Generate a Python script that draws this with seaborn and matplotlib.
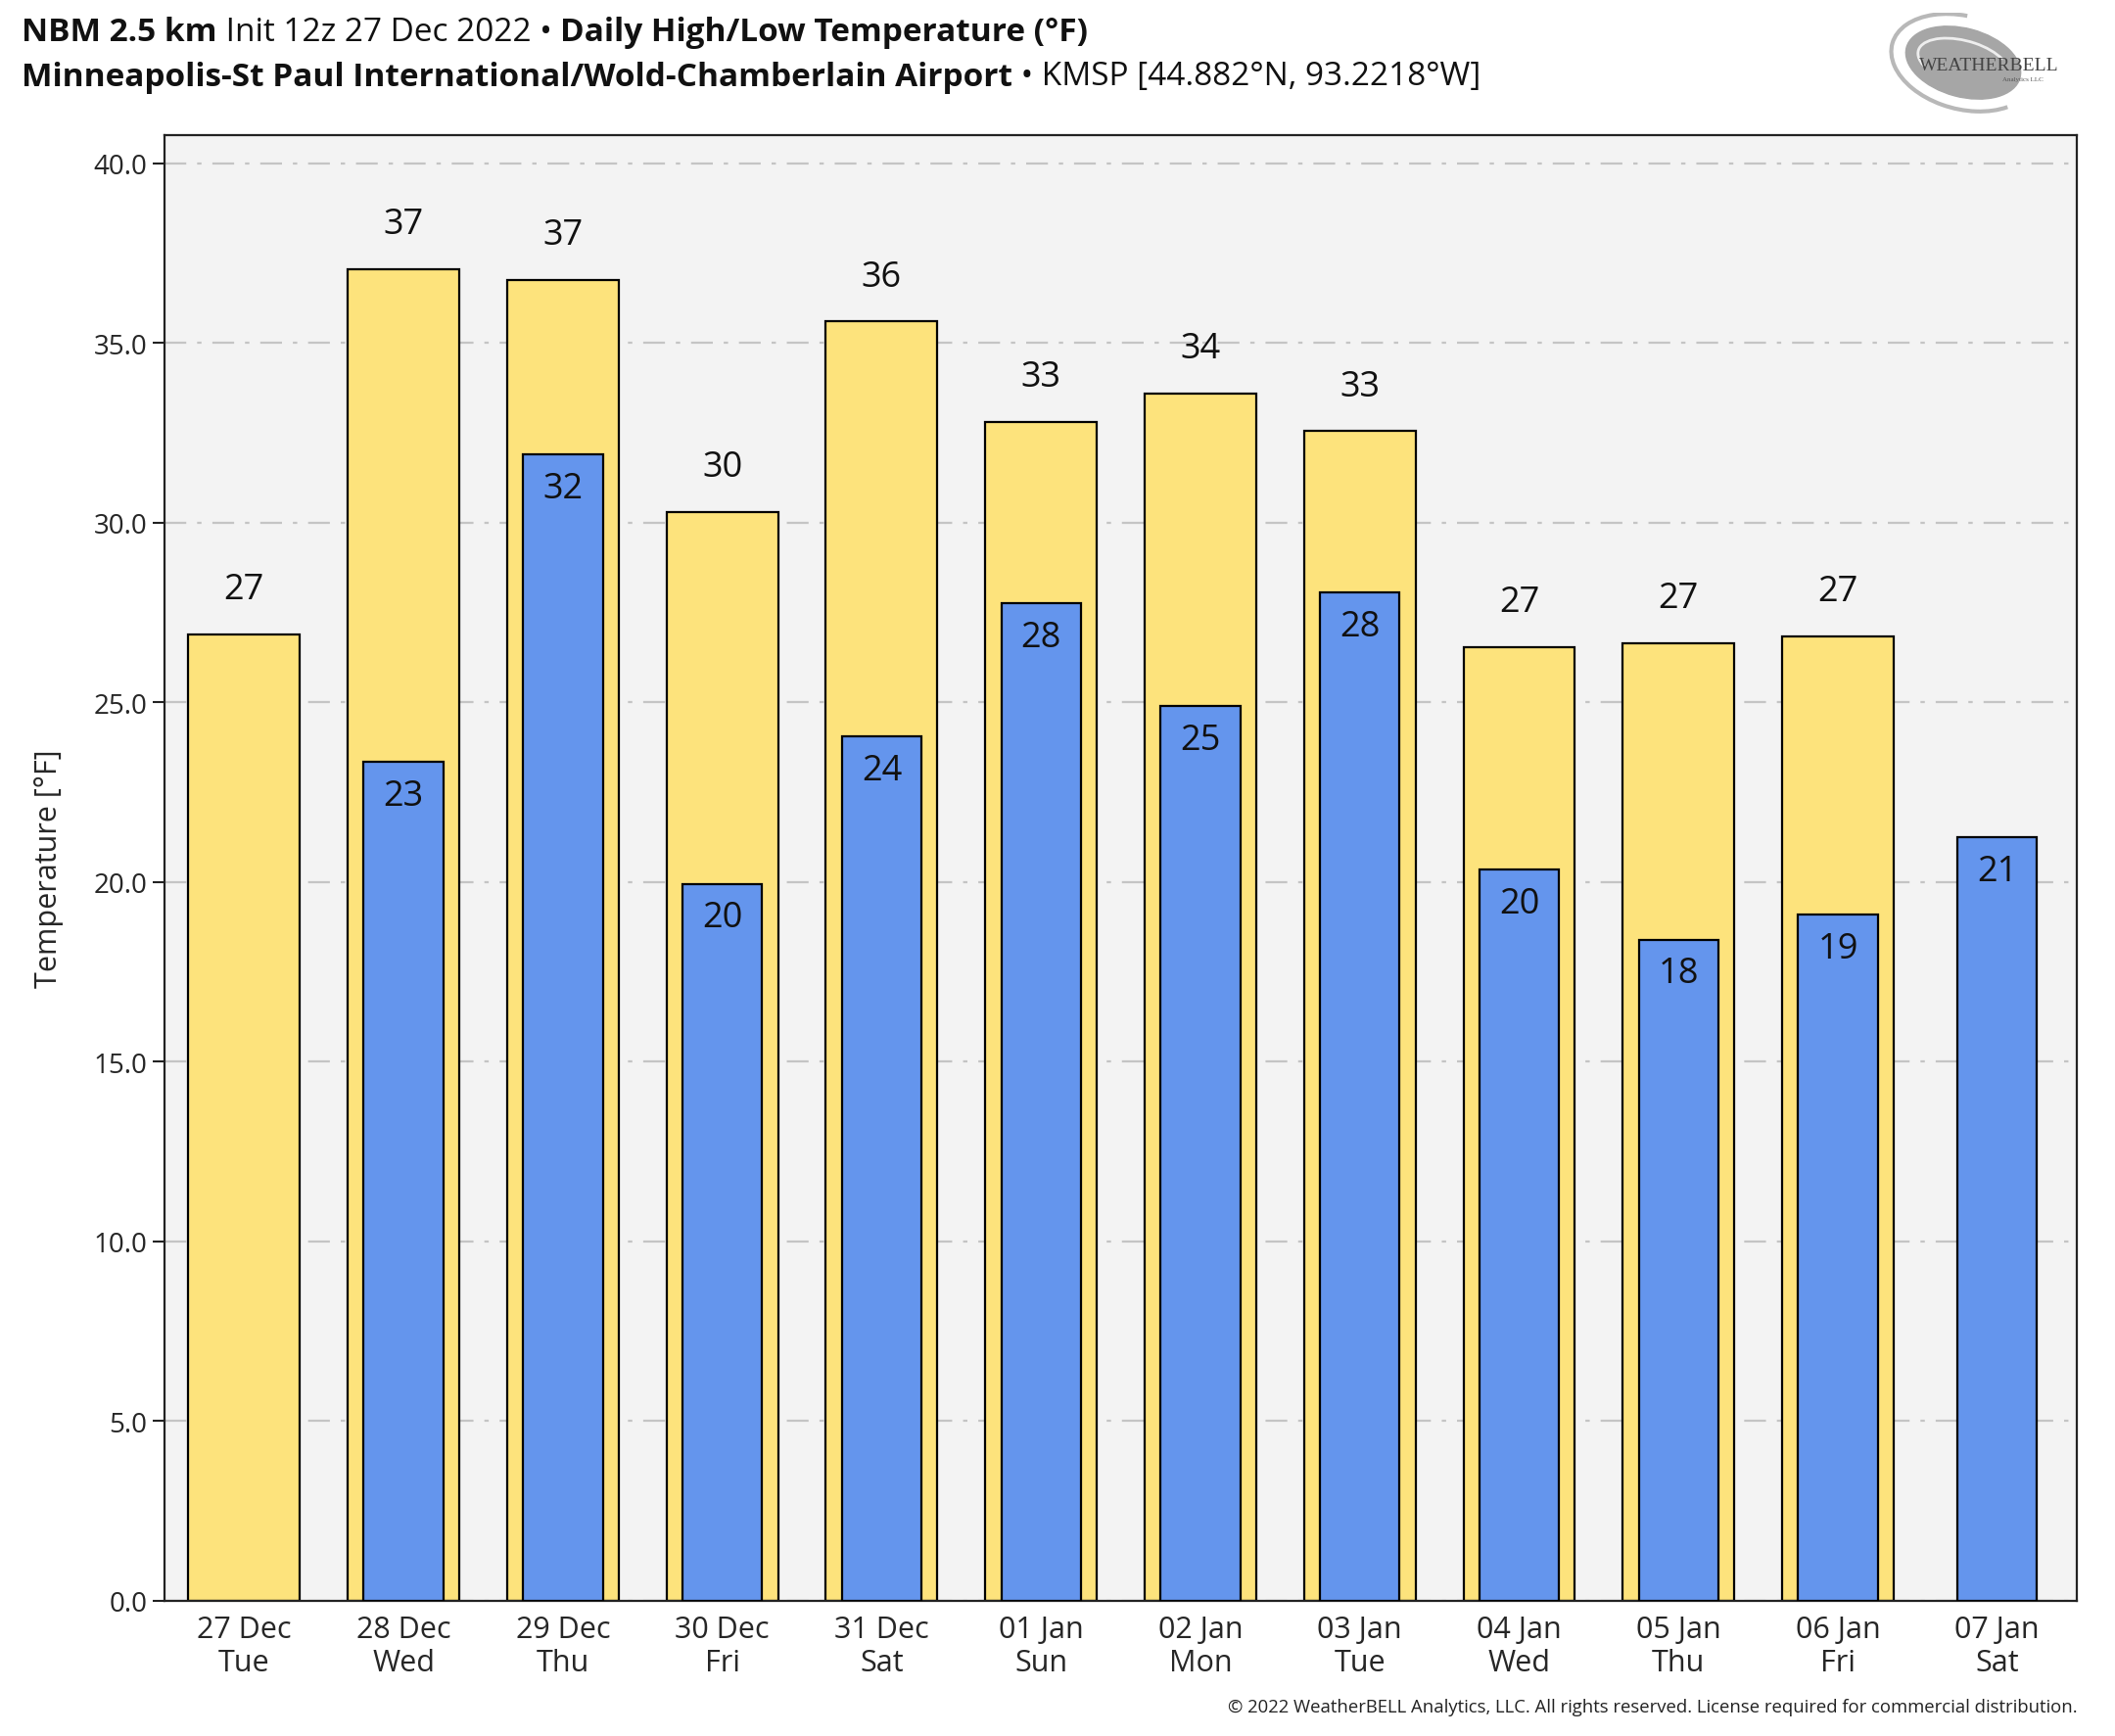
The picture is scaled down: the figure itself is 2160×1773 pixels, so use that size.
import numpy as np
import pandas as pd
import matplotlib
matplotlib.use("Agg")
import matplotlib.pyplot as plt
from matplotlib.patches import Ellipse, Arc
import seaborn as sns

days = ["27 Dec\nTue", "28 Dec\nWed", "29 Dec\nThu", "30 Dec\nFri", "31 Dec\nSat", "01 Jan\nSun",
        "02 Jan\nMon", "03 Jan\nTue", "04 Jan\nWed", "05 Jan\nThu", "06 Jan\nFri", "07 Jan\nSat"]
highs = [26.9, 37.05, 36.75, 30.3, 35.6, 32.8, 33.6, 32.55, 26.55, 26.65, 26.85, np.nan]
lows = [np.nan, 23.35, 31.9, 19.95, 24.05, 27.75, 24.9, 28.05, 20.35, 18.4, 19.1, 21.25]
yticks = [0, 5, 10, 15, 20, 25, 30, 35, 40]

yellow = "#fde37c"
blue = "#6495ed"

sns.set_style("ticks")
plt.rcParams["font.family"] = ["Open Sans", "Noto Sans", "DejaVu Sans"]

df_hi = pd.DataFrame({"day": days, "temp": highs}).dropna()
df_lo = pd.DataFrame({"day": days, "temp": lows}).dropna()

fig = plt.figure(figsize=(21.6, 17.74), dpi=100)
ax = fig.add_axes([0.0778, 0.0778, 0.9042, 0.8439])
ax.set_facecolor("#f3f3f3")

sns.barplot(data=df_hi, x="day", y="temp", order=days, color=yellow, width=0.7,
            edgecolor="black", linewidth=1.6, saturation=1, ax=ax, zorder=2)
sns.barplot(data=df_lo, x="day", y="temp", order=days, color=blue, width=0.5,
            edgecolor="black", linewidth=1.6, saturation=1, ax=ax, zorder=3)

# value labels
for i, v in enumerate(highs):
    if not np.isnan(v):
        ax.annotate(f"{round(v):d}", (i, v), xytext=(0, 20), textcoords="offset points",
                    ha="center", va="bottom", fontsize=26, color="#111111", zorder=5)
for i, v in enumerate(lows):
    if not np.isnan(v):
        ax.annotate(f"{round(v):d}", (i, v), xytext=(0, -12), textcoords="offset points",
                    ha="center", va="top", fontsize=26, color="#111111", zorder=5)

ax.set_xlim(-0.5, 11.5)
ax.set_ylim(0, 40.79)
ax.set_yticks(yticks)
ax.set_yticklabels([f"{t:.1f}" for t in yticks], fontsize=20)
ax.tick_params(axis="y", length=9, width=1.5, color="#222222")
ax.tick_params(axis="x", length=0, labelsize=22, pad=10)
ax.yaxis.grid(True, linestyle=(0, (10, 5, 2, 5)), color="#c4c4c4", linewidth=1.6, zorder=0)
ax.set_axisbelow(True)
ax.set_xlabel("")
ax.set_ylabel("Temperature [°F]", fontsize=22, labelpad=22)
for s in ax.spines.values():
    s.set_visible(True)
    s.set_color("#222222")
    s.set_linewidth(1.6)

# title made of mixed-weight pieces
fig.canvas.draw()
renderer = fig.canvas.get_renderer()


def piece_line(parts, x0, y):
    x = x0
    for txt, weight in parts:
        t = fig.text(x, y, txt, fontsize=24, fontweight=weight, ha="left", va="center",
                     color="#111111")
        bb = t.get_window_extent(renderer=renderer)
        x += bb.width / fig.bbox.width


piece_line([("NBM 2.5 km", "bold"), (" Init 12z 27 Dec 2022 • ", "normal"),
            ("Daily High/Low Temperature (°F)", "bold")], 22 / 2160, 1 - 33 / 1774)
piece_line([("Minneapolis-St Paul International/Wold-Chamberlain Airport", "bold"),
            (" • KMSP [44.882°N, 93.2218°W]", "normal")], 22 / 2160, 1 - 79 / 1774)

fig.text(2122 / 2160, 1 - 1744 / 1774,
         "© 2022 WeatherBELL Analytics, LLC. All rights reserved. License required for commercial distribution.",
         fontsize=13.3, ha="right", va="center", color="#222222")

# logo
lax = fig.add_axes([1925 / 2160, 1 - 120 / 1774, 200 / 2160, 106 / 1774])
lax.set_xlim(0, 200)
lax.set_ylim(0, 106)
lax.axis("off")
lax.add_patch(Ellipse((80, 55), 120, 70, angle=-15, color="#a6a6a6"))
lax.add_patch(Arc((80, 55), 150, 95, angle=-15, theta1=100, theta2=330, color="#b8b8b8", lw=3))
lax.add_patch(Arc((80, 55), 95, 45, angle=-15, theta1=20, theta2=200, color="#eeeeee", lw=2))
lax.text(35, 52, "WEATHERBELL", fontsize=14, family="Liberation Serif", color="#444444", va="center")
lax.text(120, 38, "Analytics LLC", fontsize=5, family="Liberation Serif", color="#555555", va="center")

fig.savefig("out.png", dpi=100)
